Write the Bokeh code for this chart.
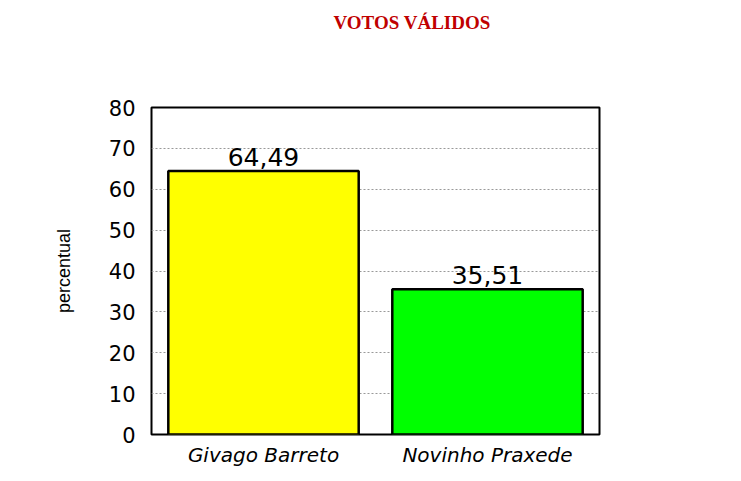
from bokeh.plotting import figure
from bokeh.models import ColumnDataSource, FactorRange, Range1d, LabelSet, FixedTicker, Title
from bokeh.core.properties import value
from bokeh.embed import file_html
from bokeh.resources import INLINE

candidates = ["Givago Barreto", "Novinho Praxede"]
percent = [64.49, 35.51]
value_labels = ["64,49", "35,51"]
colors = ["#FFFF00", "#00FF00"]
y_ticks = [0, 10, 20, 30, 40, 50, 60, 70, 80]
title_text = "VOTOS VÁLIDOS"

src = ColumnDataSource(dict(x=candidates, top=percent, lab=value_labels, color=colors))

p = figure(x_range=FactorRange(*candidates, range_padding=0), y_range=Range1d(0, 80),
           width=725, height=469, output_backend="svg", toolbar_location=None,
           min_border_left=151, min_border_right=126, min_border_top=107, min_border_bottom=35)

# spacer between the frame and the title
p.add_layout(Title(text=" ", text_font_size="1px", standoff=72), "above")
p.add_layout(Title(text=title_text, align="left", offset=182, standoff=0,
                   text_font="Liberation Serif", text_font_style="bold",
                   text_font_size="19px", text_color="#C00000"), "above")

p.vbar(x="x", top="top", width=0.85, source=src, fill_color="color",
       line_color="black", line_width=2.5)

p.add_layout(LabelSet(x="x", y="top", text="lab", source=src, y_offset=5,
                      text_align="center", text_baseline="bottom",
                      text_font=value("DejaVu Sans"), text_font_size=value("25px"),
                      text_color="black"))

p.outline_line_color = "black"
p.outline_line_width = 2
p.background_fill_color = "white"
p.border_fill_color = "white"

p.xgrid.grid_line_color = None
p.ygrid.grid_line_color = "#999999"
p.ygrid.grid_line_dash = "2 2"
p.ygrid.grid_line_width = 1
p.yaxis.ticker = FixedTicker(ticks=y_ticks)

for ax in (p.xaxis[0], p.yaxis[0]):
    ax.axis_line_color = None
    ax.major_tick_line_color = None
    ax.minor_tick_line_color = None

p.yaxis.major_label_text_font = "DejaVu Sans"
p.yaxis.major_label_text_font_size = "21px"
p.yaxis.major_label_text_color = "black"
p.yaxis.major_label_standoff = 10
p.yaxis.axis_label = "percentual"
p.yaxis.axis_label_text_font = "Liberation Sans"
p.yaxis.axis_label_text_font_style = "normal"
p.yaxis.axis_label_text_font_size = "18px"
p.yaxis.axis_label_text_color = "black"
p.yaxis.axis_label_standoff = 32

p.xaxis.major_label_text_font = "DejaVu Sans"
p.xaxis.major_label_text_font_style = "italic"
p.xaxis.major_label_text_font_size = "20px"
p.xaxis.major_label_text_color = "black"
p.xaxis.major_label_standoff = 2

open("out.html", "w").write(file_html(p, INLINE))
